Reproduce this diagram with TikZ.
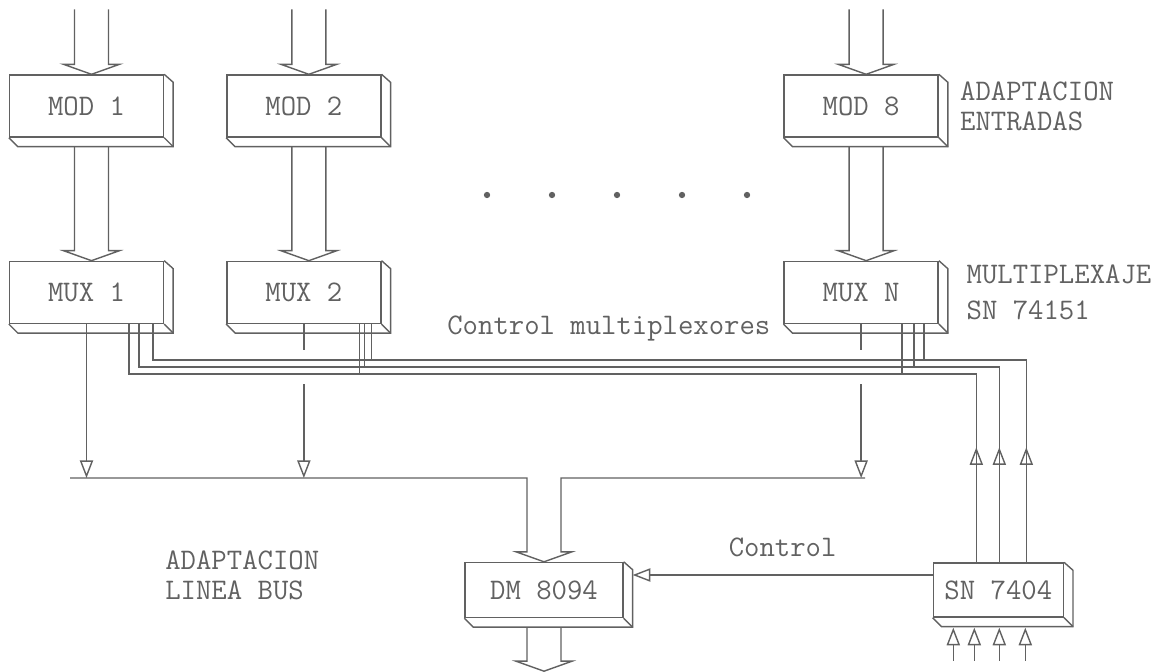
\documentclass[tikz,border=0pt]{standalone}
\usepackage{tikz}
\usetikzlibrary{arrows.meta}
\usetikzlibrary{calc}
\usetikzlibrary{positioning}
\usetikzlibrary{decorations.markings}

\colorlet{ink}{black!62}

% right side and bottom edge of a chip
\newcommand{\chipedge}[1]{%
  \draw[wire] (#1.south west) -- ++(9,9) -- ($(#1.south east)+(9,9)$) -- ($(#1.north east)+(9,8)$) -- (#1.north east);
  \draw[wire] (#1.south east) -- ++(9,9);
}
% double line bus ending in an open arrow on top of a node
\newcommand{\bus}[3]{%
  \draw[wire] ($(#1)+(-#3,0)$) -- ($(#1 |- #2.north)+(-#3,-10)$) -- ++(-11,0)
    -- (#1 |- #2.north) -- ($(#1 |- #2.north)+(#3+11,-10)$) -- ++(-11,0) -- ($(#1)+(#3,0)$);
}

\tikzset{
  wire/.style={draw=ink, line width=0.8pt},
  sig/.style={wire, -{Triangle[open,length=10pt,width=7.5pt]}},
  ctl/.style={wire, postaction={decorate},
    decoration={markings, mark=at position 2.3cm with {\arrow{Triangle[open,length=10pt,width=7.5pt]}}}},
  chip/.style={draw=ink, line width=0.8pt, minimum width=3.08cm, minimum height=1.24cm,
    inner sep=0pt, text=ink, font=\fontsize{17}{17}\selectfont\ttfamily},
  note/.style={text=ink, align=left, inner sep=0pt, font=\fontsize{17}{17}\selectfont\ttfamily},
}

\begin{document}
\begin{tikzpicture}[x=0.02cm, y=-0.02cm]
  \useasboundingbox (0,0) rectangle (1164,672);

  % input adaptation and multiplexers
  \node[chip] (mod1) at (86.5,106) {MOD 1};
  \node[chip, right=1.24cm of mod1] (mod2) {MOD 2};
  \node[chip, right=8.04cm of mod2] (mod8) {MOD 8};
  \node[chip, below=2.46cm of mod1] (mux1) {MUX 1};
  \node[chip, below=2.46cm of mod2] (mux2) {MUX 2};
  \node[chip, below=2.46cm of mod8] (muxn) {MUX N};
  % bus line adaptation
  \node[chip, minimum width=3.16cm, minimum height=1.1cm] (dm) at (544,590) {DM 8094};
  \node[chip, minimum width=2.6cm, minimum height=1.08cm, right=6.18cm of dm] (sn) {SN 7404};
  \foreach \n in {mod1,mod2,mod8,mux1,mux2,muxn,dm,sn} {
    \chipedge{\n}
  }

  % labels
  \node[note, anchor=west, right=0.42cm of mod8] (lbin) {ADAPTACION\\ENTRADAS};
  \node[note, anchor=west, right=0.55cm of muxn, font=\fontsize{17}{20}\selectfont\ttfamily] (lbmux) {MULTIPLEXAJE\\SN 74151};
  \node[note, anchor=west] (lbbus) at (165,575) {ADAPTACION\\LINEA BUS};
  \node[note, anchor=base west] (lbctl) at (447,335) {Control multiplexores};

  \foreach \x in {487,552,617,682,747}
    \fill[ink] (\x,195) circle (1.8pt);

  % buses
  \foreach \m/\u in {mod1/mux1,mod2/mux2,mod8/muxn} {
    \coordinate (in-\m) at ($(\m.north)+(5,-65)$);
    \coordinate (out-\m) at ($(\m.south)+(5,9)$);
    \bus{in-\m}{\m}{17}
    \bus{out-\m}{\u}{17}
  }

  % multiplexer outputs onto the line
  \coordinate (busL) at (70,478);
  \coordinate (busR) at (865,478);
  \draw[sig] (mux1.south) -- (mux1.south |- busL);
  \foreach \u in {mux2,muxn} {
    \draw[wire] (\u.south) -- ++(0,26);
    \draw[sig] ($(\u.south)+(0,60)$) -- (\u.south |- busL);
  }
  \draw[wire] (busL) -| ($(dm.north)+(-17,-10)$) -- ++(-11,0) -- (dm.north)
    -- ($(dm.north)+(28,-10)$) -- ++(-11,0) |- (busR);
  \coordinate (busout) at ($(dm.south)+(0,53)$);
  \draw[wire] ($(dm.south)+(-17,9)$) -- ($(busout)+(-17,-10)$) -- ++(-11,0) -- (busout)
    -- ($(busout)+(28,-10)$) -- ++(-11,0) -- ($(dm.south)+(17,9)$);

  % control of the multiplexers
  \draw[ctl] ($(sn.north)+(28,0)$) |- ($(mux1.south east)+(-11,36)$) -- ($(mux1.south east)+(-11,0)$);
  \draw[ctl] ($(sn.north)+(1,0)$) |- ($(mux1.south east)+(-25,43)$) -- ($(mux1.south east)+(-25,0)$);
  \draw[ctl] ($(sn.north)+(-22,0)$) |- ($(mux1.south east)+(-35,50)$) -- ($(mux1.south east)+(-35,0)$);
  \foreach \dx/\dy in {-10/36,-17/43,-22/50}
    \draw[wire] ($(mux2.south east)+(\dx,0)$) -- ++(0,\dy);
  \foreach \dx/\dy in {-15/36,-25/43,-37/50}
    \draw[wire] ($(muxn.south east)+(\dx,0)$) -- ++(0,\dy);

  % inverter
  \draw[sig] ($(sn.west)+(0,-15)$) -- node[note, above=0.34cm] {Control} ($(dm.east)+(9,-15)$);
  \foreach \dx in {-45,-24,1,27}
    \draw[sig] ($(sn.south)+(\dx,43)$) -- ++(0,-33);
\end{tikzpicture}
\end{document}
